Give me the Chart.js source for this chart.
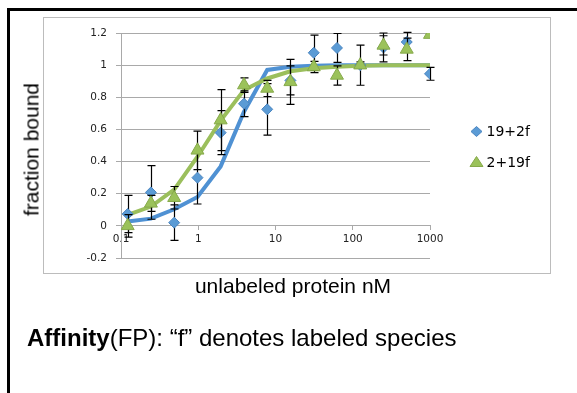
<!DOCTYPE html>
<html>
<head>
<meta charset="utf-8">
<script src="https://cdn.jsdelivr.net/npm/chart.js@4.4.1/dist/chart.umd.min.js"></script>
<style>
    html, body { margin: 0; padding: 0; background: #fff; }
    body { width: 577px; height: 393px; position: relative; overflow: hidden; font-family: "Liberation Sans", Arial, sans-serif; color: #000; }
    #frame { position: absolute; left: 7px; top: 8px; width: 620px; height: 420px; border-left: 3px solid #000; border-top: 3px solid #000; }
    #plotBox { position: absolute; left: 43px; top: 17px; width: 506px; height: 255px; border: 1.5px solid #bcbcbc; }
    #wrap { position: absolute; left: 0; top: 0; width: 577px; height: 393px; }
    .title { position: absolute; font-size: 21px; line-height: 21px; white-space: nowrap; text-align: center; }
    #xTitle { left: 193px; top: 275px; width: 200px; }
    #yTitle { left: -69px; top: 139px; width: 200px; transform: rotate(-90deg); }
    #caption { position: absolute; left: 27px; top: 326px; font-size: 24px; line-height: 24px; white-space: nowrap; }
</style>
</head>
<body>
<div id="frame"></div>
<div id="plotBox"></div>
<div id="wrap"><canvas id="bindingChart" width="577" height="393"></canvas></div>
<div class="title" id="xTitle">unlabeled protein nM</div>
<div class="title" id="yTitle">fraction bound</div>
<div id="caption"><b>Affinity</b>(FP): “f” denotes labeled species</div>
<script>
// Concentraciones (nM) - diluciones 1:2 desde 1000
const concentrations = [0.122, 0.244, 0.488, 0.977, 1.95, 3.91, 7.81, 15.6, 31.3, 62.5, 125, 250, 500, 1000];

// Serie 19+2f
const bound19_2f = [0.074, 0.208, 0.02, 0.30, 0.58, 0.76, 0.725, 0.905, 1.077, 1.107, 1.0, 1.11, 1.144, 0.946];
const err19_2f   = [0.116, 0.167, 0.11, 0.164, 0.137, 0.08, 0.16, 0.09, 0.11, 0.09, 0.125, 0.09, 0.06, 0.04];
const fit19_2f   = [0.027, 0.045, 0.103, 0.18, 0.37, 0.71, 0.97, 0.99, 0.996, 1, 1, 1, 1, 1];

// Serie 2+19f
const bound2_19f = [0.0, 0.14, 0.175, 0.47, 0.658, 0.876, 0.855, 0.896, 0.988, 0.936, 1.0, 1.123, 1.098, 1.19];
const err2_19f   = [0.07, 0.05, 0.07, 0.12, 0.19, 0.045, 0.05, 0.14, 0.035, 0.06, 0.02, 0.06, 0.07, 0];
const fit2_19f   = [0.068, 0.12, 0.225, 0.43, 0.655, 0.845, 0.917, 0.962, 0.98, 0.99, 0.996, 1, 1, 1];

// Ticks
const xTicks = [0.1, 1, 10, 100, 1000];
const xTickLabels = ['0.1', '1', '10', '100', '1000'];
const yTicks = [-0.2, 0, 0.2, 0.4, 0.6, 0.8, 1, 1.2];
const yTickLabels = ['-0.2', '0', '0.2', '0.4', '0.6', '0.8', '1', '1.2'];

const colors = {
    blue: '#5b9bd5',
    blueEdge: '#4a85c0',
    blueLine: '#4f91d3',
    green: '#9bc25a',
    greenEdge: '#86a94a',
    greenLine: '#9bbf5c',
    grid: '#a9a9a9'
};

const toPoints = ys => concentrations.map((x, i) => ({ x: x, y: ys[i] }));

// Barras de error (negro, con tope)
const errorBarPlugin = {
    id: 'errorBars',
    beforeDatasetDraw(chart, args) {
        const ds = chart.data.datasets[args.index];
        if (!ds.errors) return;
        const ctx = chart.ctx;
        const xs = chart.scales.x, ys = chart.scales.y;
        ctx.save();
        ctx.strokeStyle = '#000';
        ctx.lineWidth = 1.2;
        ds.data.forEach((p, i) => {
            const e = ds.errors[i];
            if (!e) return;
            const px = Math.round(xs.getPixelForValue(p.x)) + 0.5;
            const top = ys.getPixelForValue(p.y + e);
            const bot = ys.getPixelForValue(p.y - e);
            ctx.beginPath();
            ctx.moveTo(px, top); ctx.lineTo(px, bot);
            ctx.moveTo(px - 4, top); ctx.lineTo(px + 4, top);
            ctx.moveTo(px - 4, bot); ctx.lineTo(px + 4, bot);
            ctx.stroke();
        });
        ctx.restore();
    }
};

// Leyenda a la derecha
const sideLegendPlugin = {
    id: 'sideLegend',
    afterDraw(chart) {
        const ctx = chart.ctx;
        const items = chart.data.datasets.filter(d => d.legend);
        ctx.save();
        items.forEach((d, i) => {
            const cx = 476.5, cy = 131.5 + i * 30.5;
            ctx.fillStyle = d.backgroundColor;
            ctx.strokeStyle = d.borderColor;
            ctx.lineWidth = 1;
            ctx.beginPath();
            if (d.pointStyle === 'rectRot') {
                ctx.moveTo(cx, cy - 5); ctx.lineTo(cx + 5.5, cy);
                ctx.lineTo(cx, cy + 5); ctx.lineTo(cx - 5.5, cy);
            } else {
                ctx.moveTo(cx, cy - 5.5); ctx.lineTo(cx + 6.5, cy + 4.5);
                ctx.lineTo(cx - 6.5, cy + 4.5);
            }
            ctx.closePath();
            ctx.fill();
            ctx.stroke();
            ctx.fillStyle = '#000';
            ctx.font = '14px "DejaVu Sans"';
            ctx.textBaseline = 'middle';
            ctx.fillText(d.label, 486.5, cy + 1);
        });
        ctx.restore();
    }
};

const tickFont = { family: 'DejaVu Sans', size: 10.5 };

new Chart(document.getElementById('bindingChart'), {
    type: 'scatter',
    data: {
        datasets: [
            {
                label: '19+2f',
                legend: true,
                data: toPoints(bound19_2f),
                errors: err19_2f,
                pointStyle: 'rectRot',
                pointRadius: 5.5,
                backgroundColor: colors.blue,
                borderColor: colors.blueEdge,
                borderWidth: 1,
                order: 1
            },
            {
                label: '2+19f',
                legend: true,
                data: toPoints(bound2_19f),
                errors: err2_19f,
                pointStyle: 'triangle',
                pointRadius: 7.5,
                backgroundColor: colors.green,
                borderColor: colors.greenEdge,
                borderWidth: 1,
                order: 0
            },
            {
                label: 'fit 2+19f',
                data: toPoints(fit2_19f),
                showLine: true,
                pointRadius: 0,
                borderColor: colors.greenLine,
                borderWidth: 4,
                order: 2
            },
            {
                label: 'fit 19+2f',
                data: toPoints(fit19_2f),
                showLine: true,
                pointRadius: 0,
                borderColor: colors.blueLine,
                borderWidth: 4,
                order: 3
            }
        ]
    },
    options: {
        responsive: false,
        animation: false,
        events: [],
        layout: { padding: { left: 60, top: 33, right: 147, bottom: 135 } },
        plugins: {
            legend: { display: false },
            tooltip: { enabled: false }
        },
        scales: {
            x: {
                type: 'logarithmic',
                position: { y: 0 },
                min: 0.1,
                max: 1000,
                afterBuildTicks: scale => { scale.ticks = xTicks.map(v => ({ value: v })); },
                ticks: {
                    font: tickFont,
                    color: '#222',
                    padding: 3,
                    maxRotation: 0,
                    autoSkip: false,
                    callback: value => xTickLabels[xTicks.indexOf(value)]
                },
                grid: { drawOnChartArea: false, drawTicks: true, tickLength: 4, color: colors.grid },
                border: { color: colors.grid, width: 1 }
            },
            y: {
                type: 'linear',
                min: -0.2,
                max: 1.2,
                afterBuildTicks: scale => { scale.ticks = yTicks.map(v => ({ value: v })); },
                afterFit: scale => { scale.width = 61; },
                ticks: {
                    font: tickFont,
                    color: '#222',
                    padding: 9,
                    callback: (value, i) => yTickLabels[i]
                },
                grid: { color: colors.grid, tickLength: 5, lineWidth: 1 },
                border: { color: colors.grid, width: 1 }
            }
        }
    },
    plugins: [errorBarPlugin, sideLegendPlugin]
});
</script>
</body>
</html>
